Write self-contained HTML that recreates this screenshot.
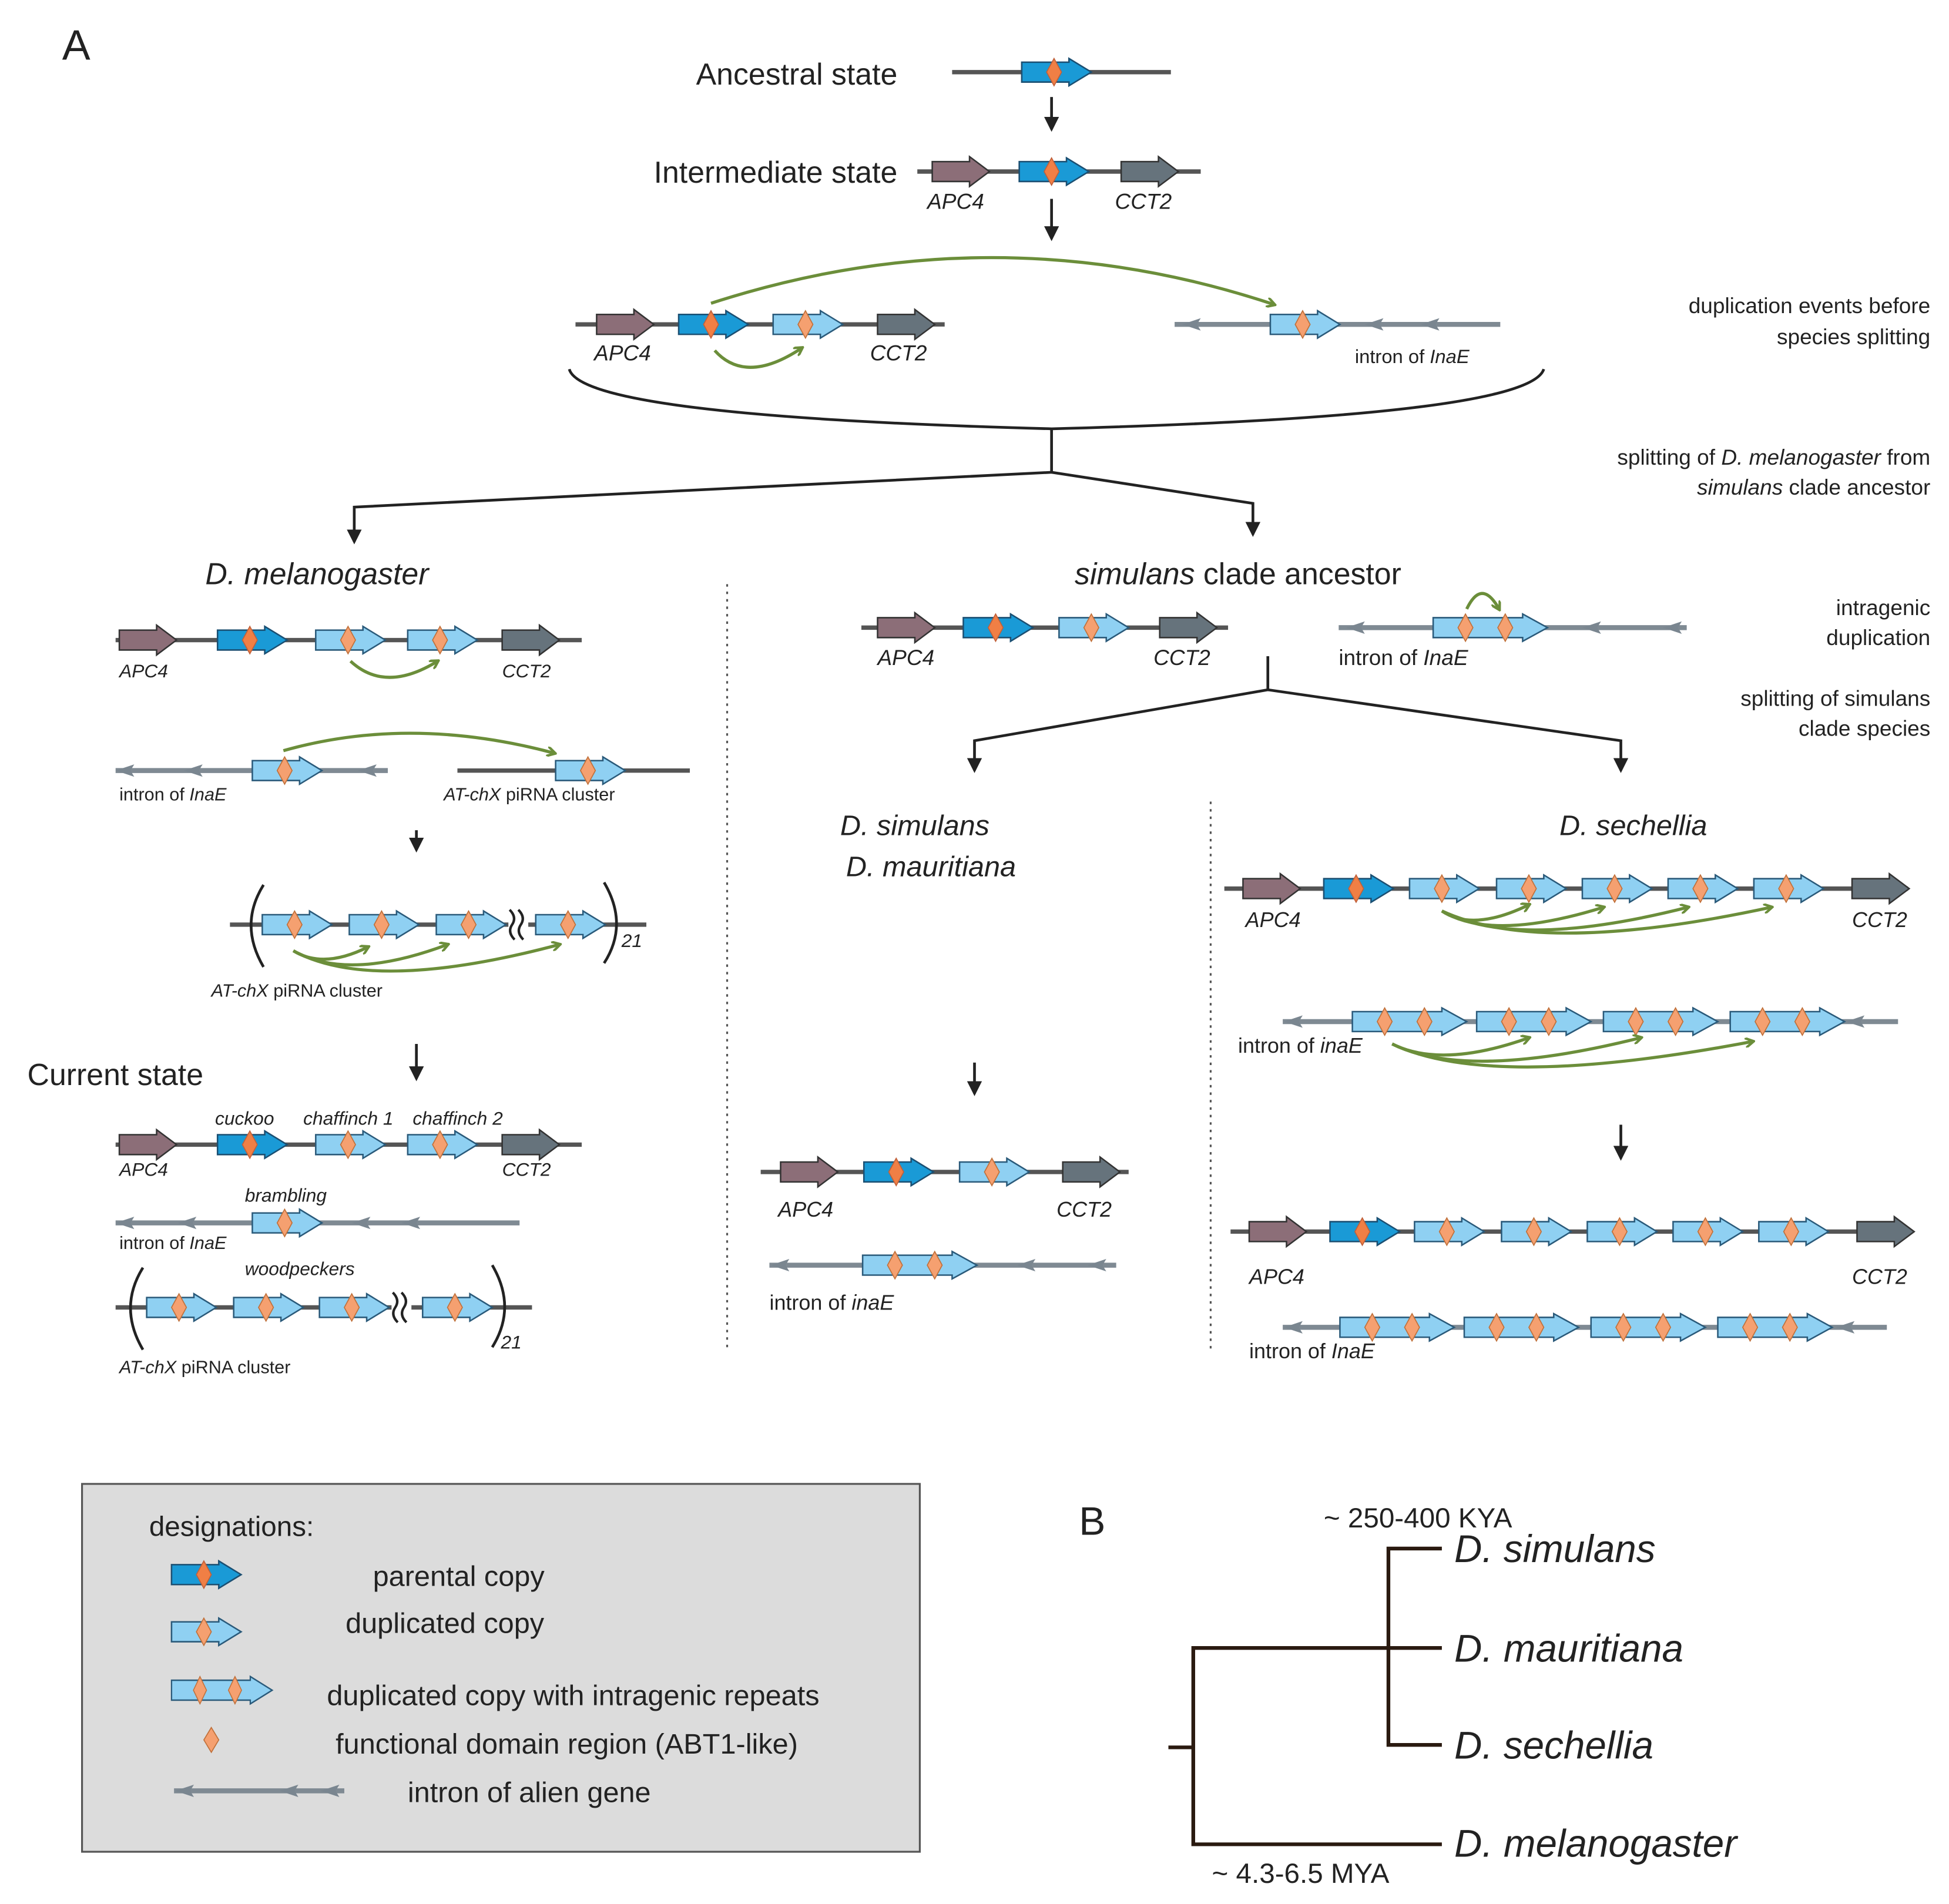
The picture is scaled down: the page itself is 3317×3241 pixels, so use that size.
<!DOCTYPE html>
<html><head><meta charset="utf-8"><style>
html,body{margin:0;padding:0;background:#fff}
svg{display:block}
text{font-family:"Liberation Sans",sans-serif;fill:#222}
.i{font-style:italic}
</style></head><body>
<svg width="3317" height="3241" viewBox="0 0 1568 1532" xmlns="http://www.w3.org/2000/svg">
<defs>
<marker id="ga" markerWidth="8" markerHeight="8" refX="6" refY="4" orient="auto" markerUnits="userSpaceOnUse"><path d="M0,0 L7,4 L0,8" fill="none" stroke="#6b8e3a" stroke-width="2"/></marker>
<marker id="ka" markerWidth="12" markerHeight="12" refX="6" refY="10" orient="0" markerUnits="userSpaceOnUse"><path d="M0,0 L12,0 L6,12Z" fill="#222"/></marker>
<g id="P"><path d="M0,-8 H38 V-11 L56,0 L38,11 V8 H0Z" fill="#1a9ad6" stroke="#1b4f72" stroke-width="1.2"/><path d="M26,-11 L32,0 L26,11 L20,0Z" fill="#f07f45" stroke="#c0603a" stroke-width=".8"/></g>
<g id="D"><path d="M0,-8 H38 V-11 L56,0 L38,11 V8 H0Z" fill="#8fd0f2" stroke="#2a5a7a" stroke-width="1.2"/><path d="M26,-11 L32,0 L26,11 L20,0Z" fill="#f5a070" stroke="#c0703a" stroke-width=".8"/></g>
<g id="E"><path d="M0,-8 H72 V-11 L92,0 L72,11 V8 H0Z" fill="#8fd0f2" stroke="#2a5a7a" stroke-width="1.2"/><path d="M26,-11 L32,0 L26,11 L20,0Z" fill="#f5a070" stroke="#c0703a" stroke-width=".8"/><path d="M58,-11 L64,0 L58,11 L52,0Z" fill="#f5a070" stroke="#c0703a" stroke-width=".8"/></g>
<g id="A"><path d="M0,-8 H30 V-12 L46,0 L30,12 V8 H0Z" fill="#8c6e78" stroke="#333" stroke-width="1.2"/></g>
<g id="C"><path d="M0,-8 H30 V-12 L46,0 L30,12 V8 H0Z" fill="#66737c" stroke="#333" stroke-width="1.2"/></g>
<g id="h"><path d="M-7,0 L8,-5 L5,0 L8,5Z" fill="#7a8690"/></g>
<g id="br"><path d="M-4,-12 Q2,-6 -2,0 Q-6,6 0,12 M3,-12 Q9,-6 5,0 Q1,6 7,12" fill="none" stroke="#222" stroke-width="2"/></g>
</defs>
<rect x="66" y="1194" width="674" height="296" fill="#dcdcdc" stroke="#555" stroke-width="1.5"/>
<g stroke="#555" stroke-width="3.5">
<line x1="766" y1="58" x2="942" y2="58"/>
<line x1="738" y1="138" x2="966" y2="138"/>
<line x1="463" y1="261" x2="760" y2="261"/>
<line x1="93" y1="515" x2="468" y2="515"/>
<line x1="368" y1="620" x2="555" y2="620"/>
<line x1="185" y1="744" x2="520" y2="744"/>
<line x1="93" y1="921" x2="468" y2="921"/>
<line x1="93" y1="1052" x2="428" y2="1052"/>
<line x1="693" y1="505" x2="988" y2="505"/>
<line x1="612" y1="943" x2="908" y2="943"/>
<line x1="985" y1="715" x2="1535" y2="715"/>
<line x1="990" y1="991" x2="1538" y2="991"/>
</g>
<g stroke="#7f8a93" stroke-width="4">
<line x1="945" y1="261" x2="1207" y2="261"/>
<line x1="93" y1="620" x2="312" y2="620"/>
<line x1="93" y1="984" x2="418" y2="984"/>
<line x1="1077" y1="505" x2="1357" y2="505"/>
<line x1="619" y1="1018" x2="898" y2="1018"/>
<line x1="1032" y1="822" x2="1527" y2="822"/>
<line x1="1032" y1="1068" x2="1518" y2="1068"/>
<line x1="140" y1="1441" x2="277" y2="1441"/>
</g>
<g>
<use href="#h" x="958" y="261"/><use href="#h" x="1105" y="261"/><use href="#h" x="1150" y="261"/>
<use href="#h" x="100" y="620"/><use href="#h" x="155" y="620"/><use href="#h" x="295" y="620"/>
<use href="#h" x="100" y="984"/><use href="#h" x="150" y="984"/><use href="#h" x="290" y="984"/><use href="#h" x="330" y="984"/>
<use href="#h" x="1090" y="505"/><use href="#h" x="1280" y="505"/><use href="#h" x="1345" y="505"/>
<use href="#h" x="627" y="1018"/><use href="#h" x="825" y="1018"/><use href="#h" x="882" y="1018"/>
<use href="#h" x="1040" y="822"/><use href="#h" x="1492" y="822"/>
<use href="#h" x="1040" y="1068"/><use href="#h" x="1484" y="1068"/>
<use href="#h" x="148" y="1441"/><use href="#h" x="232" y="1441"/><use href="#h" x="265" y="1441"/>
</g>
<use href="#P" x="822" y="58"/>
<use href="#A" x="750" y="138"/><use href="#P" x="820" y="138"/><use href="#C" x="902" y="138"/>
<use href="#A" x="480" y="261"/><use href="#P" x="546" y="261"/><use href="#D" x="622" y="261"/><use href="#C" x="706" y="261"/>
<use href="#D" x="1022" y="261"/>
<use href="#A" x="96" y="515"/><use href="#P" x="175" y="515"/><use href="#D" x="254" y="515"/><use href="#D" x="328" y="515"/><use href="#C" x="404" y="515"/>
<use href="#D" x="203" y="620"/><use href="#D" x="447" y="620"/>
<use href="#D" x="211" y="744"/><use href="#D" x="281" y="744"/><use href="#D" x="351" y="744"/><use href="#D" x="431" y="744"/>
<rect x="409" y="730" width="16" height="28" fill="#fff"/><use href="#br" x="414" y="744"/>
<use href="#A" x="96" y="921"/><use href="#P" x="175" y="921"/><use href="#D" x="254" y="921"/><use href="#D" x="328" y="921"/><use href="#C" x="404" y="921"/>
<use href="#D" x="203" y="984"/>
<use href="#D" x="118" y="1052"/><use href="#D" x="188" y="1052"/><use href="#D" x="257" y="1052"/><use href="#D" x="340" y="1052"/>
<rect x="315" y="1038" width="16" height="28" fill="#fff"/><use href="#br" x="320" y="1052"/>
<use href="#A" x="706" y="505"/><use href="#P" x="775" y="505"/><use href="#D" x="852" y="505"/><use href="#C" x="933" y="505"/>
<use href="#E" x="1153" y="505"/>
<use href="#A" x="628" y="943"/><use href="#P" x="695" y="943"/><use href="#D" x="772" y="943"/><use href="#C" x="855" y="943"/>
<use href="#E" x="694" y="1018"/>
<use href="#A" x="1000" y="715"/><use href="#P" x="1065" y="715"/><use href="#D" x="1134" y="715"/><use href="#D" x="1204" y="715"/><use href="#D" x="1273" y="715"/><use href="#D" x="1342" y="715"/><use href="#D" x="1411" y="715"/><use href="#C" x="1490" y="715"/>
<use href="#E" x="1088" y="822"/><use href="#E" x="1188" y="822"/><use href="#E" x="1290" y="822"/><use href="#E" x="1392" y="822"/>
<use href="#A" x="1005" y="991"/><use href="#P" x="1070" y="991"/><use href="#D" x="1138" y="991"/><use href="#D" x="1208" y="991"/><use href="#D" x="1277" y="991"/><use href="#D" x="1346" y="991"/><use href="#D" x="1415" y="991"/><use href="#C" x="1494" y="991"/>
<use href="#E" x="1078" y="1068"/><use href="#E" x="1178" y="1068"/><use href="#E" x="1280" y="1068"/><use href="#E" x="1382" y="1068"/>
<g fill="none" stroke="#222" stroke-width="2.2">
<path d="M212,712 Q192,744 212,778"/><path d="M486,710 Q506,744 486,775"/>
<path d="M115,1020 Q95,1052 115,1086"/><path d="M396,1018 Q416,1052 396,1084"/>
</g>
<g fill="none" stroke="#6b8e3a" stroke-width="2.5" marker-end="url(#ga)">
<path d="M572,244 Q800,170 1025,245"/>
<path d="M575,282 Q600,310 645,280"/>
<path d="M282,532 Q310,558 352,532"/>
<path d="M228,604 Q330,575 446,606"/>
<path d="M236,765 Q260,780 296,762"/>
<path d="M236,765 Q280,790 360,760"/>
<path d="M236,765 Q300,800 450,760"/>
<path d="M1180,490 Q1192,465 1206,490"/>
<path d="M1160,733 Q1185,750 1230,728"/>
<path d="M1160,733 Q1200,758 1290,730"/>
<path d="M1160,733 Q1220,765 1358,730"/>
<path d="M1160,733 Q1240,770 1425,730"/>
<path d="M1120,840 Q1160,860 1230,835"/>
<path d="M1120,840 Q1180,870 1320,835"/>
<path d="M1120,840 Q1200,878 1410,838"/>
</g>
<g fill="none" stroke="#222" stroke-width="2.2">
<line x1="846" y1="78" x2="846" y2="104" marker-end="url(#ka)"/>
<line x1="846" y1="160" x2="846" y2="192" marker-end="url(#ka)"/>
<path d="M458,297 Q468,335 846,345 Q1230,335 1242,297"/>
<path d="M846,345 V380 L285,408 V436" marker-end="url(#ka)"/>
<path d="M846,380 L1008,405 V430" marker-end="url(#ka)"/>
<line x1="335" y1="668" x2="335" y2="684" marker-end="url(#ka)"/>
<line x1="335" y1="840" x2="335" y2="868" marker-end="url(#ka)"/>
<path d="M1020,528 V555 L784,596 V620" marker-end="url(#ka)"/>
<path d="M1020,555 L1304,596 V620" marker-end="url(#ka)"/>
<line x1="784" y1="855" x2="784" y2="880" marker-end="url(#ka)"/>
<line x1="1304" y1="905" x2="1304" y2="932" marker-end="url(#ka)"/>
</g>
<g stroke="#555" stroke-width="1.5" stroke-dasharray="2,4">
<line x1="585" y1="470" x2="585" y2="1085"/><line x1="974" y1="645" x2="974" y2="1085"/>
</g>
<text x="50" y="48" font-size="34">A</text>
<text x="722" y="68" font-size="24.5" text-anchor="end">Ancestral state</text>
<text x="722" y="147" font-size="24.5" text-anchor="end">Intermediate state</text>
<g class="i" font-size="17.5">
<text x="746" y="168">APC4</text><text x="897" y="168">CCT2</text>
<text x="478" y="290">APC4</text><text x="700" y="290">CCT2</text>
<text x="706" y="535">APC4</text><text x="928" y="535">CCT2</text>
</g>
<text x="1090" y="292" font-size="15.5">intron of <tspan class="i">InaE</tspan></text>
<g font-size="17.5" text-anchor="end">
<text x="1553" y="252">duplication events before</text><text x="1553" y="277">species splitting</text>
<text x="1553" y="374">splitting of <tspan class="i">D. melanogaster</tspan> from</text><text x="1553" y="398"><tspan class="i">simulans</tspan> clade ancestor</text>
<text x="1553" y="495">intragenic</text><text x="1553" y="519">duplication</text>
<text x="1553" y="568">splitting of  simulans</text><text x="1553" y="592">clade species</text>
</g>
<text x="255" y="470" font-size="24.5" class="i" text-anchor="middle">D. melanogaster</text>
<text x="996" y="470" font-size="24.5" text-anchor="middle"><tspan class="i">simulans</tspan> clade ancestor</text>
<g class="i" font-size="15">
<text x="96" y="545">APC4</text><text x="404" y="545">CCT2</text>
<text x="96" y="946">APC4</text><text x="404" y="946">CCT2</text>
<text x="173" y="905">cuckoo</text><text x="244" y="905">chaffinch 1</text><text x="332" y="905">chaffinch 2</text>
<text x="197" y="967">brambling</text><text x="197" y="1026">woodpeckers</text>
<text x="500" y="762">21</text><text x="403" y="1085">21</text>
</g>
<g font-size="14.5">
<text x="96" y="644">intron of <tspan class="i">InaE</tspan></text>
<text x="357" y="644"><tspan class="i">AT-chX</tspan> piRNA cluster</text>
<text x="170" y="802"><tspan class="i">AT-chX</tspan> piRNA cluster</text>
<text x="96" y="1005">intron of <tspan class="i">InaE</tspan></text>
<text x="96" y="1105"><tspan class="i">AT-chX</tspan> piRNA cluster</text>
</g>
<text x="22" y="873" font-size="24.5">Current state</text>
<text x="1077" y="535" font-size="17.5">intron of <tspan class="i">InaE</tspan></text>
<g class="i" font-size="23" text-anchor="middle">
<text x="736" y="672">D. simulans</text><text x="749" y="705">D. mauritiana</text>
<text x="1314" y="672">D. sechellia</text>
</g>
<g class="i" font-size="17">
<text x="626" y="979">APC4</text><text x="850" y="979">CCT2</text>
<text x="1002" y="746">APC4</text><text x="1490" y="746">CCT2</text>
<text x="1005" y="1033">APC4</text><text x="1490" y="1033">CCT2</text>
</g>
<text x="619" y="1054" font-size="17">intron of <tspan class="i">inaE</tspan></text>
<text x="996" y="847" font-size="17">intron of <tspan class="i">inaE</tspan></text>
<text x="1005" y="1093" font-size="17">intron of <tspan class="i">InaE</tspan></text>
<text x="120" y="1236" font-size="22.5">designations:</text>
<use href="#P" x="138" y="1267"/><text x="300" y="1276" font-size="23">parental copy</text>
<use href="#D" x="138" y="1313"/><text x="278" y="1314" font-size="23">duplicated copy</text>
<g transform="translate(138,1360) scale(0.88,1)"><use href="#E"/></g><text x="263" y="1372" font-size="23">duplicated copy with intragenic repeats</text>
<path d="M170,1390 L176,1400 L170,1410 L164,1400Z" fill="#f5a070" stroke="#c0703a" stroke-width=".8"/>
<text x="270" y="1411" font-size="23">functional domain region (ABT1-like)</text>
<text x="328" y="1450" font-size="23">intron of alien gene</text>
<text x="868" y="1235" font-size="32">B</text>
<text x="1065" y="1229" font-size="22.5">~ 250-400 KYA</text>
<text x="975" y="1515" font-size="22.5">~ 4.3-6.5 MYA</text>
<g stroke="#2a1a10" stroke-width="3" fill="none">
<path d="M1160,1246 H1117 V1404 H1160 M1117,1326 H1160 M1117,1326 H960 V1484 H1160 M940,1406 H960"/>
</g>
<g class="i" font-size="31">
<text x="1170" y="1257">D. simulans</text><text x="1170" y="1337">D. mauritiana</text>
<text x="1170" y="1415">D. sechellia</text><text x="1170" y="1494">D. melanogaster</text>
</g>
</svg>
</body></html>
